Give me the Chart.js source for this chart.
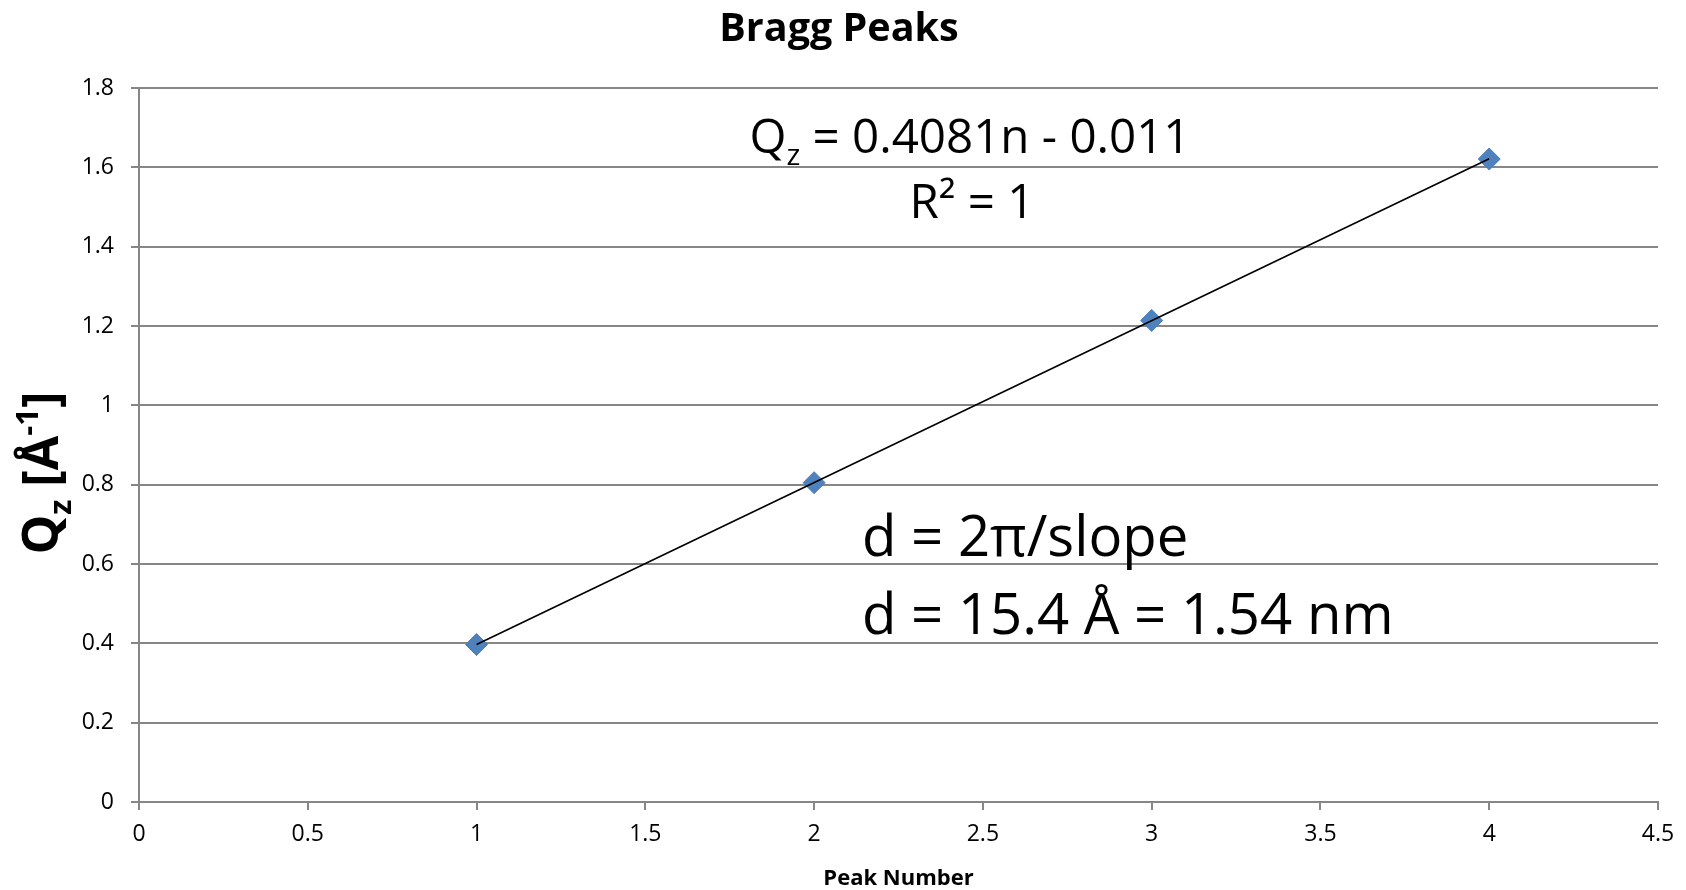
<!DOCTYPE html>
<html>
<head>
<meta charset="utf-8">
<title>Bragg Peaks</title>
<script src="https://cdn.jsdelivr.net/npm/chart.js@4.4.1/dist/chart.umd.min.js"></script>
<style>
    html, body { margin: 0; padding: 0; background: #fff; }
    #wrap { width: 1686px; height: 890px; }
</style>
</head>
<body>
<div id="wrap"><canvas id="bragg-chart"></canvas></div>
<script>
"use strict";

const peakNumbers = [1, 2, 3, 4];
const qzValues = [0.397, 0.805, 1.214, 1.621];

// linear fit, from first to last peak
const fitPeaks = [1, 4];
const fitValues = [0.3971, 1.6214];

const xTicks = [0, 0.5, 1, 1.5, 2, 2.5, 3, 3.5, 4, 4.5];
const yTicks = [0, 0.2, 0.4, 0.6, 0.8, 1, 1.2, 1.4, 1.6, 1.8];

const FONT = "'Open Sans', sans-serif";
const GRID = '#868686';

// rich text pieces: sub/sup get a smaller shifted font
const chartTitle = [{ t: 'Bragg Peaks' }];
const fitEquation = [{ t: 'Q' }, { t: 'z', sub: true }, { t: ' = 0.4081n - 0.011' }];
const fitR2 = [{ t: 'R² = 1' }];
const spacingLine1 = [{ t: 'd = 2π/slope' }];
const spacingLine2 = [{ t: 'd = 15.4 Å = 1.54 nm' }];
const yTitle = [{ t: 'Q' }, { t: 'z', sub: true }, { t: ' [Å' }, { t: '-1', sup: true }, { t: ']' }];

function drawRich(ctx, parts, x, y, size, weight, align) {
    const pieces = parts.map(p => {
        const s = (p.sub || p.sup) ? size * 0.62 : size;
        ctx.font = `${weight} ${s}px ${FONT}`;
        return { ...p, s: s, w: ctx.measureText(p.t).width };
    });
    const total = pieces.reduce((sum, p) => sum + p.w, 0);
    let cx = align === 'center' ? x - total / 2 : x;
    ctx.textAlign = 'left';
    ctx.textBaseline = 'alphabetic';
    pieces.forEach(p => {
        ctx.font = `${weight} ${p.s}px ${FONT}`;
        let dy = 0;
        if (p.sub) dy = size * 0.25;
        if (p.sup) dy = -size * 0.4;
        ctx.fillText(p.t, cx, y + dy);
        cx += p.w;
    });
}

const textOverlay = {
    id: 'textOverlay',
    afterDraw(chart) {
        const ctx = chart.ctx;
        ctx.save();
        ctx.fillStyle = '#000';
        drawRich(ctx, chartTitle, 839, 41, 39.5, 'bold', 'center');
        drawRich(ctx, fitEquation, 970, 153, 47.5, 'normal', 'center');
        drawRich(ctx, fitR2, 972, 218, 47.5, 'normal', 'center');
        drawRich(ctx, spacingLine1, 862, 556, 56.3, 'normal', 'left');
        drawRich(ctx, spacingLine2, 862, 634, 56.3, 'normal', 'left');

        ctx.translate(58, 473);
        ctx.rotate(-Math.PI / 2);
        drawRich(ctx, yTitle, 0, 0, 50, 'bold', 'center');
        ctx.restore();
    }
};

Chart.defaults.font.family = FONT;
Chart.defaults.color = '#000';

const ctx = document.getElementById('bragg-chart').getContext('2d');

new Chart(ctx, {
    type: 'scatter',
    data: {
        datasets: [
            {
                label: 'Linear fit',
                data: fitPeaks.map((n, i) => ({ x: n, y: fitValues[i] })),
                showLine: true,
                borderColor: '#000',
                borderWidth: 1.6,
                pointRadius: 0,
                order: 0
            },
            {
                label: 'Peaks',
                data: peakNumbers.map((n, i) => ({ x: n, y: qzValues[i] })),
                showLine: false,
                pointStyle: 'rectRot',
                pointRadius: 11,
                backgroundColor: '#4F81BD',
                borderColor: '#4A7EBB',
                borderWidth: 1,
                order: 1
            }
        ]
    },
    options: {
        responsive: true,
        maintainAspectRatio: false,
        animation: false,
        layout: {
            padding: { left: 0, right: 28, top: 88, bottom: 0 }
        },
        plugins: {
            legend: { display: false },
            tooltip: { enabled: false },
            title: { display: false }
        },
        scales: {
            x: {
                type: 'linear',
                min: 0,
                max: 4.5,
                afterBuildTicks: scale => { scale.ticks = xTicks.map(v => ({ value: v })); },
                afterFit: scale => { scale.height = 88; },
                ticks: {
                    font: { size: 23 },
                    padding: 11,
                    maxRotation: 0,
                    callback: value => String(value)
                },
                grid: {
                    drawOnChartArea: false,
                    drawTicks: true,
                    tickLength: 8,
                    color: GRID,
                    lineWidth: 2
                },
                border: { color: GRID, width: 2 },
                title: {
                    display: true,
                    text: 'Peak Number',
                    color: '#000',
                    font: { size: 22, weight: 'bold', lineHeight: 1 },
                    padding: { top: 0, bottom: 0 }
                }
            },
            y: {
                type: 'linear',
                min: 0,
                max: 1.8,
                afterBuildTicks: scale => { scale.ticks = yTicks.map(v => ({ value: v })); },
                afterFit: scale => { scale.width = 139; },
                ticks: {
                    font: { size: 23 },
                    padding: 17,
                    callback: value => String(value)
                },
                grid: {
                    drawOnChartArea: true,
                    drawTicks: true,
                    tickLength: 8,
                    color: GRID,
                    lineWidth: 2
                },
                border: { color: GRID, width: 2 }
            }
        }
    },
    plugins: [textOverlay]
});
</script>
</body>
</html>
